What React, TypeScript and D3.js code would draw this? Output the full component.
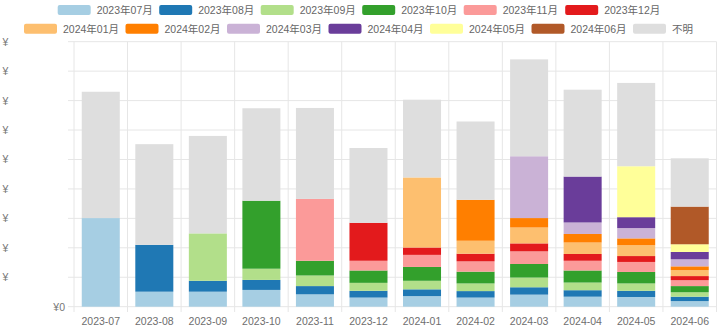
import React from "react";
import * as d3 from "d3";

const categories = ["2023-07","2023-08","2023-09","2023-10","2023-11","2023-12","2024-01","2024-02","2024-03","2024-04","2024-05","2024-06"];
const seriesNames = ["2023年07月","2023年08月","2023年09月","2023年10月","2023年11月","2023年12月","2024年01月","2024年02月","2024年03月","2024年04月","2024年05月","2024年06月","不明"];

const s202307 = [3.01, 0.51, 0.51, 0.57, 0.42, 0.31, 0.36, 0.31, 0.41, 0.34, 0.33, 0.19];
const s202308 = [0, 1.59, 0.37, 0.34, 0.28, 0.23, 0.23, 0.22, 0.25, 0.22, 0.21, 0.15];
const s202309 = [0, 0, 1.61, 0.38, 0.36, 0.27, 0.29, 0.26, 0.33, 0.26, 0.25, 0.15];
const s202310 = [0, 0, 0, 2.31, 0.5, 0.42, 0.47, 0.4, 0.46, 0.41, 0.39, 0.21];
const s202311 = [0, 0, 0, 0, 2.1, 0.33, 0.41, 0.35, 0.43, 0.33, 0.34, 0.2];
const s202312 = [0, 0, 0, 0, 0, 1.29, 0.25, 0.26, 0.27, 0.23, 0.2, 0.14];
const s202401 = [0, 0, 0, 0, 0, 0, 2.38, 0.44, 0.54, 0.39, 0.37, 0.2];
const s202402 = [0, 0, 0, 0, 0, 0, 0, 1.39, 0.32, 0.29, 0.23, 0.13];
const s202403 = [0, 0, 0, 0, 0, 0, 0, 0, 2.1, 0.39, 0.35, 0.24];
const s202404 = [0, 0, 0, 0, 0, 0, 0, 0, 0, 1.56, 0.37, 0.25];
const s202405 = [0, 0, 0, 0, 0, 0, 0, 0, 0, 0, 1.73, 0.26];
const s202406 = [0, 0, 0, 0, 0, 0, 0, 0, 0, 0, 0, 1.28];
const sUnknown = [4.29, 3.42, 3.31, 3.14, 3.09, 2.54, 2.64, 2.66, 3.29, 2.95, 2.83, 1.64];

const yTicks = [0, 1, 2, 3, 4, 5, 6, 7, 8, 9];

const seriesValues = [s202307, s202308, s202309, s202310, s202311, s202312, s202401, s202402, s202403, s202404, s202405, s202406, sUnknown];
const colors = [...d3.schemePaired, "#dedede"];

const W = 720, H = 331;
const FONT = "'Liberation Sans', Arial, 'Noto Sans CJK JP', sans-serif";

export default function App() {
  const rows = categories.map((c, i) => {
    const r: any = { cat: c };
    seriesNames.forEach((n, k) => (r[n] = seriesValues[k][i]));
    return r;
  });
  const stacked = d3.stack().keys(seriesNames)(rows);

  const x = d3.scaleBand().domain(categories).range([74, 716.5]).paddingInner(0.29).paddingOuter(0.145);
  const y = d3.scaleLinear().domain([0, 9]).range([306.7, 41.7]);
  const step = x.step();
  const x0 = 74;
  const boundaries = d3.range(categories.length + 1).map((i) => x0 + i * step);

  const legendRows = [
    { items: seriesNames.slice(0, 6), start: 57.7, cy: 10 },
    { items: seriesNames.slice(6), start: 24, cy: 28.7 },
  ];

  return (
    <svg width={W} height={H} style={{ position: "absolute", left: 0, top: 0, fontFamily: FONT }}>
      {yTicks.map((t) => (
        <line key={"h" + t} x1={68} x2={716.5} y1={y(t)} y2={y(t)} stroke="#e6e6e6" strokeWidth={1} />
      ))}
      {boundaries.map((b, i) => (
        <line key={"v" + i} x1={b} x2={b} y1={y(9)} y2={312} stroke="#e6e6e6" strokeWidth={1} />
      ))}
      {yTicks.map((t) =>
        t === 0 ? (
          <text key={"yl" + t} x={65} y={y(t)} textAnchor="end" dominantBaseline="central" fontSize={10.5} fill="#777">¥0</text>
        ) : (
          <text key={"yl" + t} x={2.5} y={y(t)} textAnchor="start" dominantBaseline="central" fontSize={10.5} fill="#777">¥</text>
        )
      )}
      {stacked.map((s, k) => (
        <g key={s.key} fill={colors[k]}>
          {s.map((d, i) =>
            d[1] - d[0] > 0 ? (
              <rect key={i} x={x(categories[i])} width={x.bandwidth()} y={y(d[1])} height={y(d[0]) - y(d[1])} />
            ) : null
          )}
        </g>
      ))}
      {categories.map((c) => (
        <text key={c} x={(x(c) as number) + x.bandwidth() / 2} y={321} textAnchor="middle" dominantBaseline="central" fontSize={10.5} fill="#6e6e6e">{c}</text>
      ))}
      {legendRows.map((row, ri) => (
        <g key={"lr" + ri}>
          {row.items.map((n, j) => {
            const k = seriesNames.indexOf(n);
            const lx = row.start + j * 101.5;
            return (
              <g key={n}>
                <rect x={lx} y={row.cy - 5} width={33} height={10} rx={2} fill={colors[k]} />
                <text x={lx + 39} y={row.cy} dominantBaseline="central" fontSize={10.5} fill="#666">{n}</text>
              </g>
            );
          })}
        </g>
      ))}
    </svg>
  );
}
